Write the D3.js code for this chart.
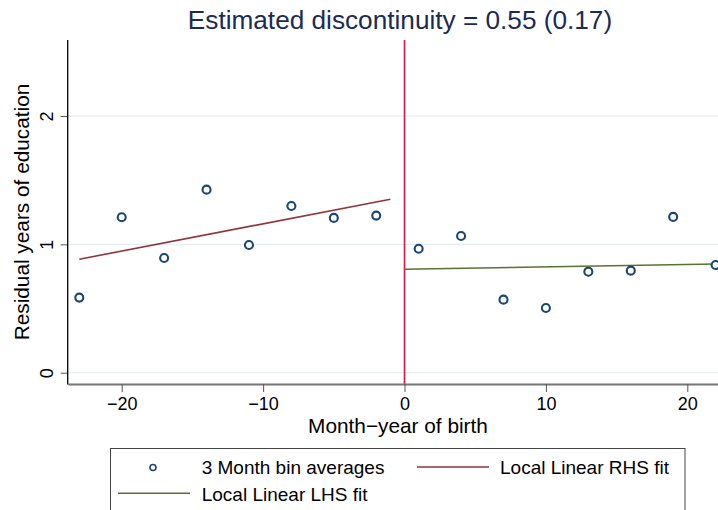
<!DOCTYPE html>
<html>
<head>
<meta charset="utf-8">
<script src="https://cdn.jsdelivr.net/npm/d3@7"></script>
<style>
  html, body { margin: 0; padding: 0; background: #fff; }
  svg { display: block; font-family: "Liberation Sans", Arial, Helvetica, sans-serif; }
</style>
</head>
<body>
<svg id="chart" width="718" height="510"></svg>
<script>
// Month-year of birth relative to the cutoff, binned in 3-month groups
const binMonths = [-23, -20, -17, -14, -11, -8, -5, -2, 1, 4, 7, 10, 13, 16, 19, 22];
// Residual years of education, bin averages
const binValues = [0.585, 1.211, 0.894, 1.426, 0.995, 1.299, 1.206, 1.224,
                   0.966, 1.065, 0.569, 0.504, 0.787, 0.795, 1.214, 0.839];
// Local linear fit, below the cutoff
const rhsFitMonths = [-23, -1];
const rhsFitValues = [0.884, 1.351];
// Local linear fit, above the cutoff
const lhsFitMonths = [0, 22];
const lhsFitValues = [0.806, 0.847];

const xTicks = [-20, -10, 0, 10, 20];
const yTicks = [0, 1, 2];
const cutoff = 0;

const titleText = "Estimated discontinuity = 0.55 (0.17)";
const xTitle = "Month\u2212year of birth";
const yTitle = "Residual years of education";
const legendLabels = ["3 Month bin averages", "Local Linear RHS fit", "Local Linear LHS fit"];

const colors = {
  marker: "#1a476f",
  rhs: "#90353b",
  lhs: "#55752f",
  cutoff: "#dc1441",
  title: "#1c2b53",
  grid: "#e6eef1"
};

const plot = { left: 67.7, right: 718, top: 40, bottom: 384 };

const svg = d3.select("#chart");

const x = d3.scaleLinear().domain([-23.82, 22.17]).range([plot.left, plot.right]);
const y = d3.scaleLinear().domain([-0.088, 2.592]).range([plot.bottom, plot.top]);

// gridlines
svg.append("g")
  .selectAll("line").data(yTicks).join("line")
  .attr("x1", plot.left).attr("x2", plot.right)
  .attr("y1", d => y(d)).attr("y2", d => y(d))
  .attr("stroke", colors.grid).attr("stroke-width", 1.2);

// clip for marks near the right edge
svg.append("clipPath").attr("id", "plotclip")
  .append("rect").attr("x", plot.left).attr("y", plot.top)
  .attr("width", plot.right - plot.left).attr("height", plot.bottom - plot.top);

const marks = svg.append("g").attr("clip-path", "url(#plotclip)");

// cutoff line
marks.append("line")
  .attr("x1", x(cutoff)).attr("x2", x(cutoff))
  .attr("y1", plot.top).attr("y2", plot.bottom)
  .attr("stroke", colors.cutoff).attr("stroke-width", 1.6);

const line = d3.line().x(d => x(d[0])).y(d => y(d[1]));

marks.append("path")
  .datum(d3.zip(rhsFitMonths, rhsFitValues))
  .attr("d", line).attr("fill", "none")
  .attr("stroke", colors.rhs).attr("stroke-width", 1.6);

marks.append("path")
  .datum(d3.zip(lhsFitMonths, lhsFitValues))
  .attr("d", line).attr("fill", "none")
  .attr("stroke", colors.lhs).attr("stroke-width", 1.6);

marks.append("g")
  .selectAll("circle").data(d3.zip(binMonths, binValues)).join("circle")
  .attr("cx", d => x(d[0])).attr("cy", d => y(d[1]))
  .attr("r", 4)
  .attr("fill", "#fff").attr("stroke", colors.marker).attr("stroke-width", 2.1);

// y axis
const yAxis = svg.append("g").attr("transform", `translate(${plot.left},0)`)
  .call(d3.axisLeft(y).tickValues(yTicks).tickSize(7).tickFormat(d3.format("d")));
yAxis.select(".domain").remove();
yAxis.selectAll(".tick line").attr("stroke", "#555");
yAxis.selectAll(".tick text").remove();
yAxis.selectAll(".tick").append("text")
  .attr("transform", "translate(-15,0) rotate(-90)")
  .attr("text-anchor", "middle")
  .attr("fill", "#000")
  .style("font-size", "18px")
  .text(d => d3.format("d")(d));
svg.append("line")
  .attr("x1", plot.left).attr("x2", plot.left)
  .attr("y1", plot.top).attr("y2", plot.bottom + 0.5)
  .attr("stroke", "#000").attr("stroke-width", 1.3);

// x axis
const xAxis = svg.append("g").attr("transform", `translate(0,${plot.bottom})`)
  .call(d3.axisBottom(x).tickValues(xTicks).tickSize(8).tickSizeOuter(0));
xAxis.select(".domain").attr("stroke", "#777").attr("stroke-width", 1.8);
xAxis.selectAll(".tick line").attr("stroke", "#555");
xAxis.selectAll(".tick text")
  .attr("y", 0).attr("dy", 0)
  .attr("transform", "translate(0,26)")
  .attr("fill", "#000")
  .style("font-size", "18px")
  .style("font-family", "'Liberation Sans', Arial, sans-serif");

// axis titles
svg.append("text")
  .attr("x", 398).attr("y", 433)
  .attr("text-anchor", "middle")
  .style("font-size", "20.8px")
  .text(xTitle);

svg.append("text")
  .attr("transform", `translate(28.5,${(plot.top + plot.bottom) / 2}) rotate(-90)`)
  .attr("text-anchor", "middle")
  .style("font-size", "20.8px")
  .text(yTitle);

// title
svg.append("text")
  .attr("x", 400).attr("y", 28.5)
  .attr("text-anchor", "middle")
  .attr("fill", colors.title)
  .style("font-size", "26.2px")
  .text(titleText);

// legend
const legend = svg.append("g");
legend.append("rect")
  .attr("x", 110.5).attr("y", 448.5)
  .attr("width", 574.5).attr("height", 80)
  .attr("fill", "#fff").attr("stroke", "#444").attr("stroke-width", 1);

legend.append("circle")
  .attr("cx", 153).attr("cy", 467.5).attr("r", 3)
  .attr("fill", "#fff").attr("stroke", colors.marker).attr("stroke-width", 1.6);
legend.append("text").attr("x", 201.7).attr("y", 474.2)
  .style("font-size", "19px").text(legendLabels[0]);

legend.append("line")
  .attr("x1", 417).attr("x2", 489).attr("y1", 467).attr("y2", 467)
  .attr("stroke", colors.rhs).attr("stroke-width", 1.6);
legend.append("text").attr("x", 500).attr("y", 474.2)
  .style("font-size", "19px").text(legendLabels[1]);

legend.append("line")
  .attr("x1", 118).attr("x2", 190).attr("y1", 493.3).attr("y2", 493.3)
  .attr("stroke", colors.lhs).attr("stroke-width", 1.6);
legend.append("text").attr("x", 201.7).attr("y", 500.5)
  .style("font-size", "19px").text(legendLabels[2]);
</script>
</body>
</html>
